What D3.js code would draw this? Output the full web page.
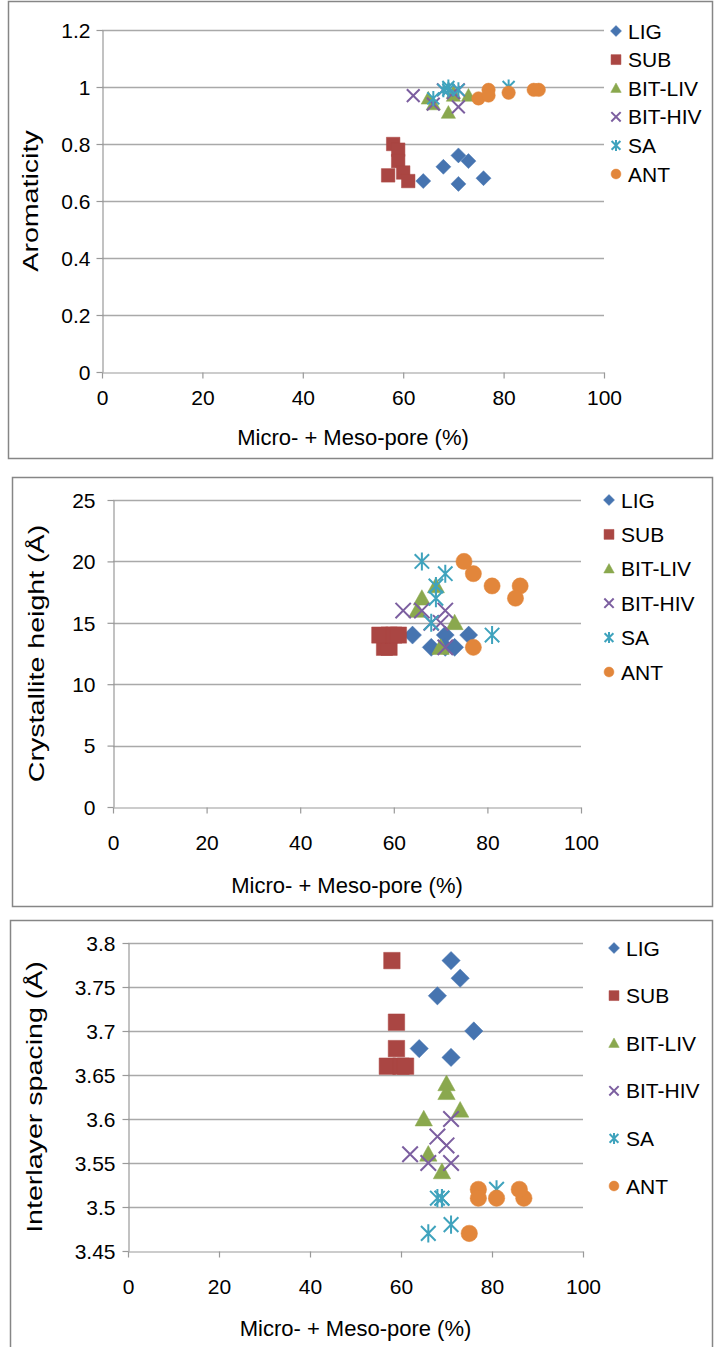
<!DOCTYPE html>
<html><head><meta charset="utf-8">
<script src="https://cdn.jsdelivr.net/npm/d3@7"></script>
<style>
body{margin:0;background:#fff}
svg{display:block}
text{font-family:"Liberation Sans",Arial,sans-serif;fill:#000}
</style>
</head><body>
<svg id="chart" width="724" height="1347"></svg>
<script>
// ---------- DATA ----------
const seriesNames = ["LIG","SUB","BIT-LIV","BIT-HIV","SA","ANT"];
const xTicks = [0,20,40,60,80,100];
const aromaticityTicks = [0,0.2,0.4,0.6,0.8,1,1.2];
const heightTicks = [0,5,10,15,20,25];
const spacingTicks = [3.45,3.5,3.55,3.6,3.65,3.7,3.75,3.8];

// Micro- + Meso-pore (%)
const ligPore    = [64,68,71,73,71,76];
const subPore    = [58,59,59,57,60,61];
const bitLivPore = [65,66,69,70,70,73];
const bitHivPore = [62,66,68,70,71,71];
const saPore     = [66,69,69,68,71,81];
const antPore    = [75,77,81,87,86,77];

// Aromaticity
const ligAromaticity    = [0.67,0.72,0.76,0.74,0.66,0.68];
const subAromaticity    = [0.80,0.78,0.74,0.69,0.70,0.67];
const bitLivAromaticity = [0.96,0.94,0.91,0.97,0.98,0.97];
const bitHivAromaticity = [0.97,0.94,0.99,0.98,0.99,0.93];
const saAromaticity     = [0.96,1.00,0.99,0.99,0.99,1.00];
const antAromaticity    = [0.96,0.99,0.98,0.99,0.99,0.97];

// Crystallite height (Å)
const ligHeight    = [14,13,14,13,13,14];
const subHeight    = [13,13,14,14,14,14];
const bitLivHeight = [16,17,18,13,13,15];
const bitHivHeight = [16,16,15,15,16,13];
const saHeight     = [20,18,17,15,19,14];
const antHeight    = [20,19,18,18,17,13];

// Interlayer spacing (Å)
const ligSpacing    = [3.68,3.74,3.78,3.76,3.67,3.70];
const subSpacing    = [3.78,3.71,3.68,3.66,3.66,3.66];
const bitLivSpacing = [3.60,3.56,3.54,3.64,3.63,3.61];
const bitHivSpacing = [3.56,3.55,3.58,3.57,3.60,3.55];
const saSpacing     = [3.47,3.51,3.51,3.51,3.48,3.52];
const antSpacing    = [3.47,3.52,3.51,3.51,3.52,3.51];

// ---------- STYLE / LAYOUT ----------
const colors = ["#4674B0","#AA4643","#8AA84E","#7C5FA0","#3FA3BD","#E2863B"];
const shapes = ["diamond","square","triangle","x","asterisk","circle"];

const pores = [ligPore,subPore,bitLivPore,bitHivPore,saPore,antPore];
const panelData = [
  [ligAromaticity,subAromaticity,bitLivAromaticity,bitHivAromaticity,saAromaticity,antAromaticity],
  [ligHeight,subHeight,bitLivHeight,bitHivHeight,saHeight,antHeight],
  [ligSpacing,subSpacing,bitLivSpacing,bitHivSpacing,saSpacing,antSpacing]
];
const panelTicks = [aromaticityTicks,heightTicks,spacingTicks];
const yTitles = ["Aromaticity","Crystallite height (Å)","Interlayer spacing (Å)"];

const layout = [
  {box:[8,1,704,457], px:[102,604], py:[372,30], ytx:30, ypad:6, xlab:25, xtit:65,
   legX:616, legY:31, legDy:28.6, ms:1.0},
  {box:[12,477,700,429], px:[113,581], py:[807,500], ytx:36, ypad:12, xlab:35, xtit:78,
   legX:609, legY:500, legDy:34.4, ms:1.2},
  {box:[10,920,702,440], px:[128,583], py:[1251,943], ytx:34, ypad:7, xlab:35, xtit:77,
   legX:614, legY:948, legDy:47.6, ms:1.22}
];

const svg = d3.select("#chart");
svg.append("rect").attr("width",724).attr("height",1347).attr("fill","#fff");

function markerPath(shape, s){
  const p = d3.path();
  if(shape==="diamond"){ p.moveTo(0,-s); p.lineTo(s,0); p.lineTo(0,s); p.lineTo(-s,0); p.closePath(); }
  else if(shape==="square"){ const h=s*0.9; p.rect(-h,-h,2*h,2*h); }
  else if(shape==="triangle"){ const h=s*0.95; p.moveTo(0,-h); p.lineTo(h,h*0.8); p.lineTo(-h,h*0.8); p.closePath(); }
  else if(shape==="circle"){ p.arc(0,0,s*0.9,0,2*Math.PI); }
  else if(shape==="x"){ const h=s*0.85; p.moveTo(-h,-h); p.lineTo(h,h); p.moveTo(h,-h); p.lineTo(-h,h); }
  else if(shape==="asterisk"){ const h=s*0.8; p.moveTo(-h,-h); p.lineTo(h,h); p.moveTo(h,-h); p.lineTo(-h,h); p.moveTo(0,-h*1.25); p.lineTo(0,h*1.25); }
  return p.toString();
}
function drawMarker(g, shape, color, s){
  const stroked = (shape==="x"||shape==="asterisk");
  g.append("path").attr("d",markerPath(shape,s))
    .attr("fill", stroked?"none":color)
    .attr("stroke", color)
    .attr("stroke-width", stroked?2:0.5);
}
const fmt = v => String(+v.toFixed(2));

layout.forEach((L, pi) => {
  const g = svg.append("g");
  const [bx,by,bw,bh] = L.box;
  g.append("rect").attr("x",bx+0.5).attr("y",by+0.5).attr("width",bw).attr("height",bh)
    .attr("fill","none").attr("stroke","#868686").attr("stroke-width",1.5);

  const ticks = panelTicks[pi];
  const x = d3.scaleLinear().domain([0,100]).range(L.px);
  const y = d3.scaleLinear().domain([ticks[0], ticks[ticks.length-1]]).range(L.py);

  // gridlines
  g.append("g").selectAll("line").data(ticks.slice(1)).join("line")
    .attr("x1",L.px[0]).attr("x2",L.px[1])
    .attr("y1",d=>Math.round(y(d))+0.5).attr("y2",d=>Math.round(y(d))+0.5)
    .attr("stroke","#a9a9a9").attr("stroke-width",1.5);

  // y axis
  const ya = g.append("g").attr("transform",`translate(${L.px[0]+0.5},0)`)
    .call(d3.axisLeft(y).tickValues(ticks).tickFormat(fmt).tickSize(6).tickPadding(L.ypad).tickSizeOuter(0));
  ya.select(".domain").attr("stroke","#999").attr("stroke-width",1.2);
  ya.selectAll(".tick line").attr("stroke","#999").attr("stroke-width",1.2);
  ya.selectAll(".tick text").attr("font-size",21).attr("font-family","Liberation Sans, Arial, sans-serif")
    .attr("fill","#000").attr("dy","0.35em");

  // x axis
  const xa = g.append("g").attr("transform",`translate(0,${Math.round(L.py[0])+0.5})`)
    .call(d3.axisBottom(x).tickValues(xTicks).tickSize(6).tickSizeOuter(0));
  xa.select(".domain").attr("stroke","#999").attr("stroke-width",1.2);
  xa.selectAll(".tick line").attr("stroke","#999").attr("stroke-width",1.2);
  xa.selectAll(".tick text").attr("font-size",21).attr("font-family","Liberation Sans, Arial, sans-serif")
    .attr("fill","#000").attr("y",L.xlab).attr("dy","0.35em");

  // axis titles
  g.append("text").attr("x",(L.px[0]+L.px[1])/2).attr("y",L.py[0]+L.xtit)
    .attr("text-anchor","middle").attr("dominant-baseline","central").attr("font-size",22)
    .text("Micro- + Meso-pore (%)");
  g.append("text").attr("transform",`translate(${L.ytx},${(L.py[0]+L.py[1])/2}) rotate(-90) scale(1.3,1)`)
    .attr("text-anchor","middle").attr("dominant-baseline","central").attr("font-size",22).text(yTitles[pi]);

  // points
  const pts = g.append("g");
  seriesNames.forEach((name, si) => {
    const vals = panelData[pi][si];
    pores[si].forEach((xv, k) => {
      const mg = pts.append("g").attr("transform",`translate(${x(xv)},${y(vals[k])})`);
      drawMarker(mg, shapes[si], colors[si], 7.5*L.ms);
    });
  });

  // legend
  seriesNames.forEach((name, si) => {
    const lg = g.append("g").attr("transform",`translate(${L.legX},${L.legY + si*L.legDy})`);
    drawMarker(lg, shapes[si], colors[si], 5.5);
    lg.append("text").attr("x",12).attr("y",0).attr("dominant-baseline","central")
      .attr("font-size",21).text(name);
  });
});
</script>
</body></html>
